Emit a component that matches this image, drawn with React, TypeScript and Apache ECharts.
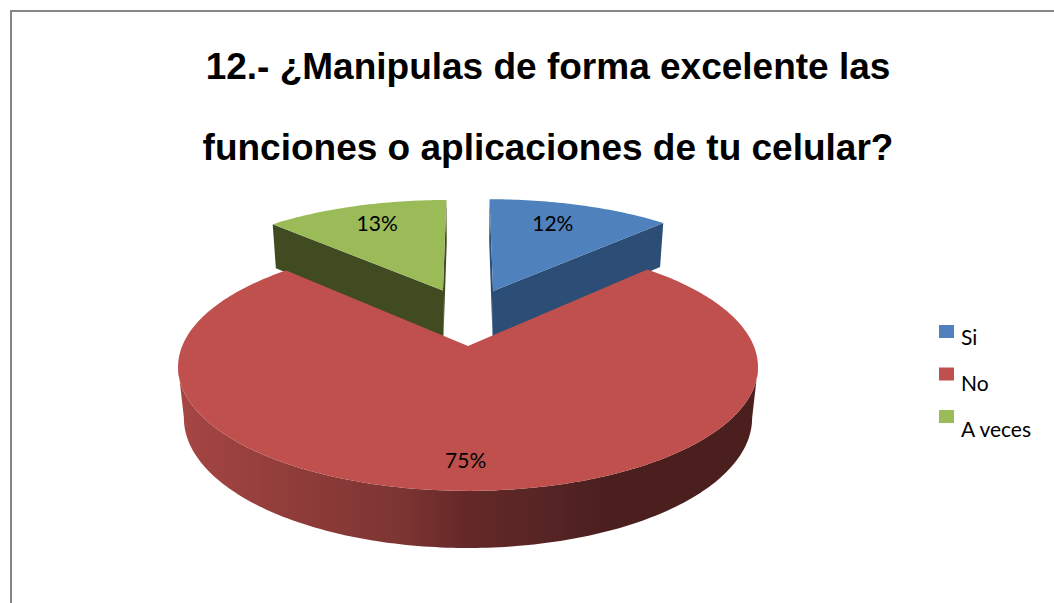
import React, { useEffect, useRef } from "react";
import * as echarts from "echarts";

const titleText = "12.- ¿Manipulas de forma excelente las\nfunciones o aplicaciones de tu celular?";
const categories = ["Si", "No", "A veces"];
const values = [12.4, 75, 12.6];
const topColors = ["#4F81BD", "#C0504D", "#9BBB59"];
const wallColors = ["#2C4D75", "#C0504D", "#404B21"];
const explodeX = [0.095, 0, -0.095];
const explodeY = [-0.495, 0, -0.5];
const sliceRadius = [1.04, 1, 1.025];
const labelRadius = [0.73, 0.82, 0.73];
const labelNudgeX = [-4, -4, -1];
const labelNudgeY = [-6, -1, -6];
const drawOrder = [1, 3, 2];
const legendPadTop = [18.5, 22, 25.5];
const legendPadBottom = [8.5, 5, 1.5];

// projection of the tilted pie
const CX = 468, CY = 346, A = 285.8, B = 120.4, P = 0.169, H = 51.5, Q = 0.02;
const total = values.reduce((s, v) => s + v, 0);

function project(x: number, y: number, bottom: boolean): number[] {
  const w = 1 - P * y + (bottom ? Q : 0);
  return [CX + (A * x) / w, CY + (B * y + (bottom ? H : 0)) / w];
}

function extremeIndex(arc: number[][], sign: number): number {
  let best = 0;
  arc.forEach((p, i) => {
    if (sign * p[0] > sign * arc[best][0]) best = i;
  });
  return best;
}

function renderSlice(idx: number) {
  const start = (values.slice(0, idx).reduce((s, v) => s + v, 0) / total) * Math.PI * 2;
  const end = start + (values[idx] / total) * Math.PI * 2;
  const ox = explodeX[idx], oy = explodeY[idx], r = sliceRadius[idx];
  const world: number[][] = [];
  const n = Math.max(2, Math.round(((end - start) * 180) / Math.PI));
  for (let i = 0; i <= n; i++) {
    const t = start + ((end - start) * i) / n;
    world.push([ox + r * Math.sin(t), oy - r * Math.cos(t)]);
  }
  const topArc = world.map((p) => project(p[0], p[1], false));
  const botArc = world.map((p) => project(p[0], p[1], true));
  const vTop = project(ox, oy, false);
  const vBot = project(ox, oy, true);
  const children: any[] = [];
  if (idx === 1) {
    const wallFill: any = new echarts.graphic.LinearGradient(0, 0, 1, 0, [
      { offset: 0, color: "#A64643" },
      { offset: 0.21, color: "#8E3C39" },
      { offset: 0.38, color: "#7D3533" },
      { offset: 0.5, color: "#642828" },
      { offset: 0.64, color: "#562424" },
      { offset: 0.74, color: "#4B1F1E" },
      { offset: 1, color: "#4B1F1E" },
    ]);
    const band = [
      ...topArc.slice(extremeIndex(topArc, 1), extremeIndex(topArc, -1) + 1),
      ...botArc.slice(extremeIndex(botArc, 1), extremeIndex(botArc, -1) + 1).reverse(),
    ];
    children.push({ type: "polygon", shape: { points: band }, style: { fill: wallFill } });
  } else {
    children.push({
      type: "polygon",
      shape: { points: [vTop, topArc[0], botArc[0], vBot] },
      style: { fill: wallColors[idx] },
    });
    children.push({
      type: "polygon",
      shape: { points: [vTop, topArc[n], botArc[n], vBot] },
      style: { fill: wallColors[idx] },
    });
  }
  children.push({
    type: "polygon",
    shape: { points: [vTop, ...topArc] },
    style: { fill: topColors[idx] },
  });
  const mid = (start + end) / 2;
  const lp = project(
    ox + labelRadius[idx] * Math.sin(mid),
    oy - labelRadius[idx] * Math.cos(mid),
    false
  );
  children.push({
    type: "text",
    style: {
      text: Math.round((values[idx] / total) * 100) + "%",
      x: lp[0] + labelNudgeX[idx],
      y: lp[1] + labelNudgeY[idx],
      fill: "#000000",
      font: "21px Lato",
      align: "center",
      verticalAlign: "middle",
    },
  });
  return { type: "group", children };
}

export default function App() {
  const ref = useRef<HTMLDivElement>(null);
  useEffect(() => {
    const chart = echarts.init(ref.current as HTMLDivElement, undefined, { renderer: "svg" });
    const rich: any = {};
    categories.forEach((_, i) => {
      rich["s" + i] = {
        fontFamily: "Lato",
        fontSize: 21,
        color: "#000000",
        lineHeight: 16,
        padding: [legendPadTop[i], 0, legendPadBottom[i], 2],
      };
    });
    chart.setOption({
      animation: false,
      backgroundColor: "#ffffff",
      title: {
        text: titleText,
        left: 548,
        top: 26,
        padding: 0,
        textAlign: "center",
        textStyle: {
          fontFamily: "Liberation Sans",
          fontWeight: "bold",
          fontSize: 37,
          lineHeight: 81,
          color: "#000000",
        },
      },
      legend: {
        orient: "vertical",
        left: 939,
        top: 307.5,
        padding: 0,
        icon: "rect",
        itemWidth: 15,
        itemHeight: 13,
        itemGap: -5.5,
        selectedMode: false,
        data: categories,
        formatter: (name: string) => `{s${categories.indexOf(name)}|${name}}`,
        textStyle: { rich },
      },
      graphic: [
        {
          type: "polyline",
          silent: true,
          shape: { points: [[11, 603], [11, 11], [1054, 11]] },
          style: { stroke: "#868686", lineWidth: 2, fill: "none" },
        },
      ],
      series: categories.map((name, i) => ({
        type: "custom",
        name,
        coordinateSystem: "none",
        z: drawOrder[i],
        silent: true,
        itemStyle: { color: topColors[i] },
        data: [values[i]],
        renderItem: () => renderSlice(i),
      })),
    });
    return () => chart.dispose();
  }, []);
  return (
    <div
      ref={ref}
      style={{ position: "absolute", left: 0, top: 0, width: 1054, height: 603 }}
    />
  );
}
